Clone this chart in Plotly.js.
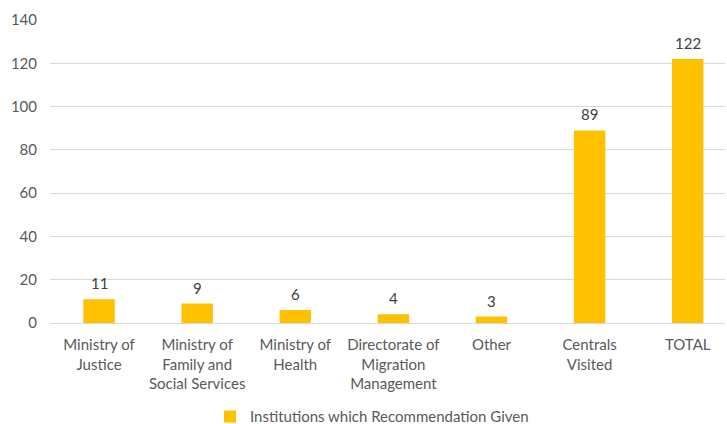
<!DOCTYPE html>
<html>
<head>
<meta charset="utf-8">
<script src="https://cdn.plot.ly/plotly-3.0.1.min.js"></script>
<style>html,body{margin:0;padding:0;background:#fff;}#chart{width:727px;height:424px;}</style>
</head>
<body>
<div id="chart"></div>
<script>
var categories = ["Ministry of<br>Justice", "Ministry of<br>Family and<br>Social Services", "Ministry of<br>Health", "Directorate of<br>Migration<br>Management", "Other", "Centrals<br>Visited", "TOTAL"];
var values = [11, 9, 6, 4, 3, 89, 122];
var seriesName = "Institutions which Recommendation Given";
var yTicks = [0, 20, 40, 60, 80, 100, 120, 140];

var FONT = "Lato, 'Open Sans', sans-serif";
var TXT = "#595959";

var idx = categories.map(function(_, i){ return i; });

var trace = {
  type: "bar",
  x: idx,
  y: values,
  name: seriesName,
  marker: {color: "#FFC000"},
  hoverinfo: "none"
};

var annotations = values.map(function(v, i){
  return {x: i, y: v, xref: "x", yref: "y", text: String(v), showarrow: false,
          yanchor: "middle", yshift: 16, font: {family: FONT, size: 15, color: "#404040"}};
});

var layout = {
  width: 727, height: 424,
  margin: {l: 49.5, r: 2, t: 20, b: 100.7},
  paper_bgcolor: "#fff", plot_bgcolor: "#fff",
  font: {family: FONT, size: 15, color: TXT},
  bargap: 0.68,
  showlegend: true,
  legend: {orientation: "h", xref: "container", yref: "container", x: 210 / 727, xanchor: "left",
           y: 0.017, yanchor: "middle", font: {family: FONT, size: 15, color: TXT}},
  xaxis: {
    range: [-0.5, 6.38],
    tickmode: "array", tickvals: idx, ticktext: categories,
    showgrid: false, zeroline: false, showline: false, ticks: "", ticklabelstandoff: 11,
    tickfont: {family: FONT, size: 15, color: TXT}, fixedrange: true
  },
  yaxis: {
    range: [0, 140],
    tickmode: "array", tickvals: yTicks, ticktext: yTicks.map(String),
    showgrid: true, gridcolor: "#d9d9d9", gridwidth: 1,
    zeroline: true, zerolinecolor: "#d9d9d9", zerolinewidth: 1,
    showline: false, ticks: "", ticklabelstandoff: 12,
    tickfont: {family: FONT, size: 15, color: TXT}, fixedrange: true
  },
  annotations: annotations
};

Plotly.newPlot("chart", [trace], layout, {displayModeBar: false, staticPlot: true});
</script>
</body>
</html>
